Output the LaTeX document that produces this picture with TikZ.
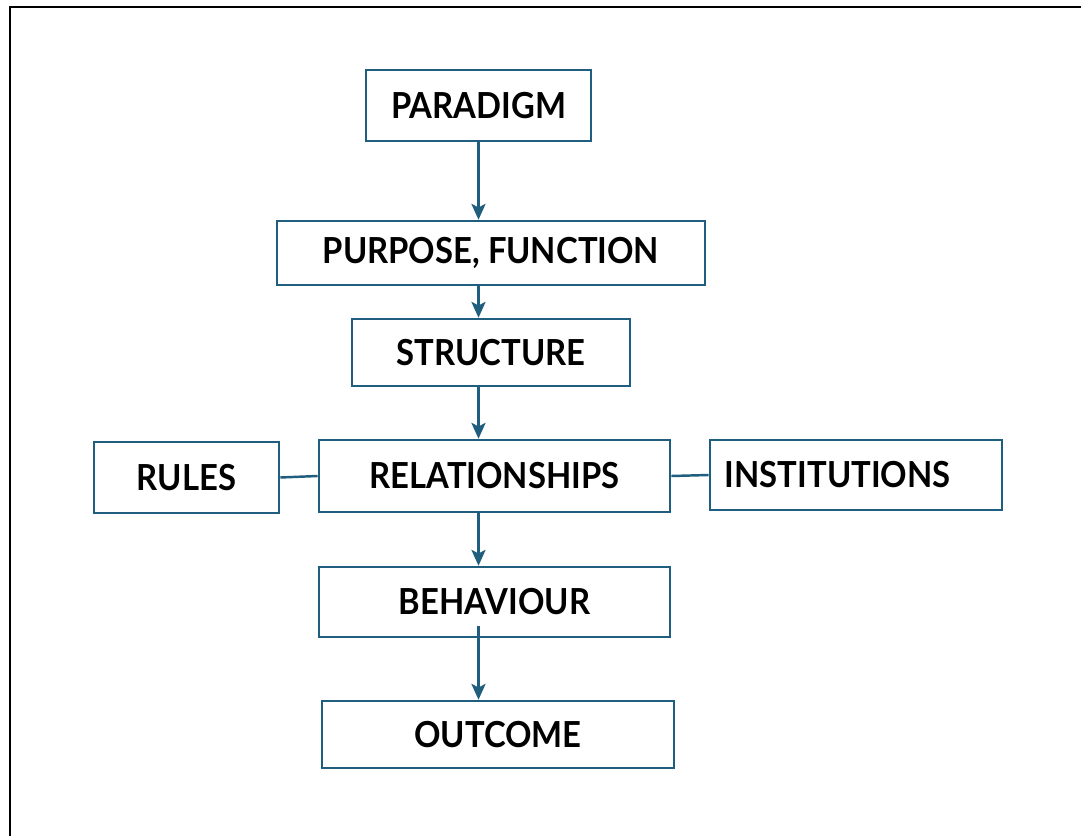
\documentclass[tikz,border=0pt]{standalone}
\usepackage{fontspec}
\setmainfont{Lato}[FakeStretch=0.915]
\usetikzlibrary{arrows.meta}

\definecolor{boxblue}{RGB}{31,94,126}

\tikzset{
	stepbox/.style = {draw=boxblue, line width=0.7pt, inner sep=0pt,
		font=\bfseries\fontsize{10.2}{12}\selectfont},
	flowarrow/.style = {draw=boxblue, line width=0.7pt,
		-{Stealth[length=4.5pt, width=4pt, inset=1pt]}},
	sidelink/.style = {draw=boxblue, line width=0.7pt}
}

\begin{document}
\begin{tikzpicture}[x=0.01cm, y=-0.01cm]
				% frame and size of the page
				\useasboundingbox (0,0) rectangle (1081,836);
				\draw[line width=0.8pt] (10,836) -- (10,7) -- (1081,7);
				
				% the boxes
				\node[stepbox, minimum width=2.25cm, minimum height=0.71cm] (par) at (478.5,105.5) {PARADIGM};
				\node[stepbox, minimum width=4.28cm, minimum height=0.64cm] (pur) at (491,253) {PURPOSE, FUNCTION};
				\node[stepbox, minimum width=2.78cm, minimum height=0.67cm] (str) at (491,352.5) {STRUCTURE};
				\node[stepbox, minimum width=3.51cm, minimum height=0.72cm] (rel) at (494.5,476) {RELATIONSHIPS};
				\node[stepbox, minimum width=1.85cm, minimum height=0.71cm] (rul) at (186.5,477.5) {RULES};
				\node[stepbox, minimum height=0.70cm, text width=2.62cm, align=left, inner xsep=0.15cm] (ins) at (856,475) {INSTITUTIONS};
				\node[stepbox, minimum width=3.51cm, minimum height=0.70cm] (beh) at (494.5,602) {BEHAVIOUR};
				\node[stepbox, minimum width=3.52cm, minimum height=0.67cm] (out) at (498,734.5) {OUTCOME};
				
				% the arrows down the middle
				\draw[flowarrow] (par.south) -- (par.south |- pur.north);
				\draw[flowarrow] (par.south |- pur.south) -- (par.south |- str.north);
				\draw[flowarrow] (par.south |- str.south) -- (par.south |- rel.north);
				\draw[flowarrow] (par.south |- rel.south) -- (par.south |- beh.north);
				\draw[flowarrow] ([yshift=0.12cm]par.south |- beh.south) -- (par.south |- out.north);
				
				% the side links
				\draw[sidelink] (rul.east) -- (rel.west);
				\draw[sidelink] (rel.east) -- (ins.west);
				
			\end{tikzpicture}
\end{document}
